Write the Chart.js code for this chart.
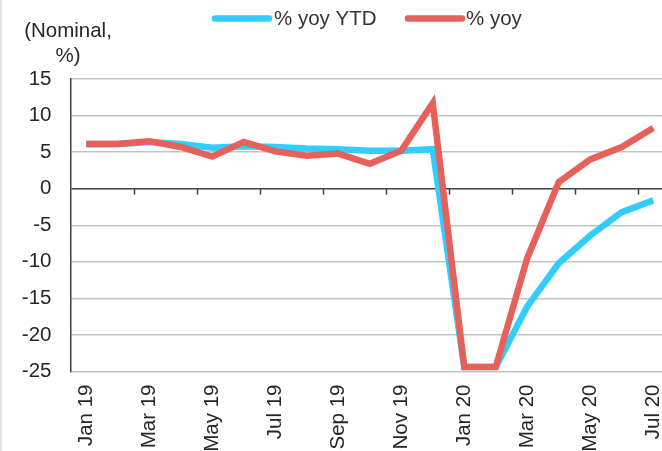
<!DOCTYPE html>
<html>
<head>
<meta charset="utf-8">
<script src="https://cdn.jsdelivr.net/npm/chart.js@4"></script>
<style>
  html, body { margin: 0; padding: 0; background: #fff; overflow: hidden; }
  #wrap { width: 662px; height: 451px; overflow: hidden; position: relative; border-left: 2px solid #e3e3e3; box-sizing: border-box; }
  canvas { position: absolute; left: -2px; top: 0; }
</style>
</head>
<body>
<div id="wrap"><canvas id="c" width="672" height="451"></canvas></div>
<script>
const categories = ['Jan 19','Feb 19','Mar 19','Apr 19','May 19','Jun 19','Jul 19','Aug 19','Sep 19','Oct 19','Nov 19','Dec 19',
                    'Jan 20','Feb 20','Mar 20','Apr 20','May 20','Jun 20','Jul 20'];
const yoyYTD = [6.1, 6.1, 6.4, 6.1, 5.6, 5.8, 5.7, 5.5, 5.4, 5.2, 5.2, 5.4, -24.4, -24.4, -16.1, -10.2, -6.4, -3.2, -1.6];
const yoy    = [6.1, 6.1, 6.5, 5.7, 4.4, 6.4, 5.1, 4.5, 4.8, 3.4, 5.2, 11.7, -24.4, -24.4, -9.5, 0.9, 4.0, 5.7, 8.3];
const seriesNames = ['% yoy YTD', '% yoy'];
const seriesColors = ['#33CCFF', '#E8605A'];
const axisTitle = ['(Nominal,', '%)'];
const yTicks = { min: -25, max: 15, step: 5 };

const FONT = '"Liberation Sans", Arial, sans-serif';

const extras = {
  id: 'extras',
  afterDraw(chart) {
    const ctx = chart.ctx;
    const x = chart.scales.x, y = chart.scales.y;
    ctx.save();
    // tick marks below zero line at every second category boundary
    const y0 = y.getPixelForValue(0);
    ctx.strokeStyle = '#404040';
    ctx.lineWidth = 1.5;
    const step = x.getPixelForValue(1) - x.getPixelForValue(0);
    for (let i = 2; i <= categories.length; i += 2) {
      const bx = Math.round(x.getPixelForValue(i) - step / 2) + 0.5;
      ctx.beginPath();
      ctx.moveTo(bx, y0);
      ctx.lineTo(bx, y0 + 6);
      ctx.stroke();
    }
    // axis title
    ctx.fillStyle = '#262626';
    ctx.font = '20.5px ' + FONT;
    ctx.textAlign = 'center';
    ctx.textBaseline = 'middle';
    ctx.fillText(axisTitle[0], 68, 31);
    ctx.fillText(axisTitle[1], 68, 56);
    // legend
    const items = [
      { x0: 215, x1: 269, tx: 274 },
      { x0: 408, x1: 462, tx: 466 }
    ];
    ctx.textAlign = 'left';
    ctx.lineCap = 'round';
    items.forEach((it, i) => {
      ctx.strokeStyle = seriesColors[i];
      ctx.lineWidth = 6.5;
      ctx.beginPath();
      ctx.moveTo(it.x0, 18.5);
      ctx.lineTo(it.x1, 18.5);
      ctx.stroke();
      ctx.fillStyle = '#333333';
      ctx.fillText(seriesNames[i], it.tx, 19);
    });
    ctx.restore();
  }
};

new Chart(document.getElementById('c'), {
  type: 'line',
  data: {
    labels: categories,
    datasets: [
      { label: seriesNames[0], data: yoyYTD, borderColor: seriesColors[0], backgroundColor: seriesColors[0],
        borderWidth: 6.5, pointRadius: 0, tension: 0, borderJoinStyle: 'miter', order: 1 },
      { label: seriesNames[1], data: yoy, borderColor: seriesColors[1], backgroundColor: seriesColors[1],
        borderWidth: 6.5, pointRadius: 0, tension: 0, borderJoinStyle: 'miter', order: 0 }
    ]
  },
  options: {
    responsive: false,
    animation: false,
    devicePixelRatio: 1,
    layout: { padding: { top: 79, right: 3, left: 0, bottom: 0 } },
    plugins: { legend: { display: false }, tooltip: { enabled: false } },
    scales: {
      x: {
        type: 'category',
        offset: true,
        grid: { display: false, drawTicks: false },
        border: { display: false },
        afterFit(s) { s.height = 79.5; s.paddingLeft = 0; s.paddingRight = 0; },
        ticks: {
          autoSkip: false,
          minRotation: 90, maxRotation: 90,
          padding: 13,
          color: '#262626',
          font: { family: FONT, size: 20.5 },
          callback(v, i) { return i % 2 === 0 ? categories[i] : null; }
        }
      },
      y: {
        min: yTicks.min, max: yTicks.max,
        afterFit(s) { s.width = 70.5; s.paddingTop = 0; s.paddingBottom = 0; },
        grid: {
          drawTicks: false,
          lineWidth: 1.5,
          color: (c) => (c.tick && c.tick.value === 0) ? '#404040' : '#c3c3c3'
        },
        border: { display: true, color: '#404040', width: 1.5 },
        ticks: {
          stepSize: yTicks.step,
          padding: 19,
          color: '#262626',
          font: { family: FONT, size: 20.5 }
        }
      }
    }
  },
  plugins: [extras]
});
</script>
</body>
</html>
